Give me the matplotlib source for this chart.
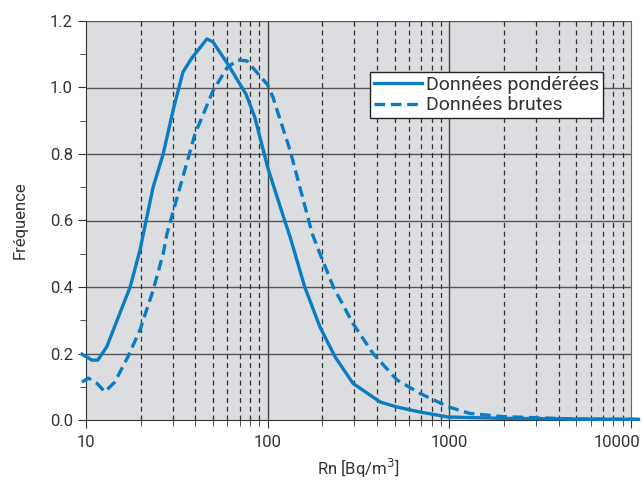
import numpy as np
import matplotlib.pyplot as plt
import matplotlib.transforms as mtransforms
from matplotlib.ticker import FixedLocator, NullFormatter, MultipleLocator

plt.rcParams['font.family'] = ['Roboto', 'DejaVu Sans']

# Données pondérées (solid)
x_pond = [9.5, 10.8, 11.6, 13.0, 17.5, 19.8, 23.4, 26.6, 30.1, 34.2, 38.4, 46.3, 50, 60.7,
          76, 85, 100, 124, 133, 160, 194, 235, 295, 417, 516, 690, 983, 2000, 5000, 11000]
y_pond = [0.198, 0.18, 0.18, 0.22, 0.40, 0.51, 0.70, 0.80, 0.93, 1.047, 1.09, 1.146, 1.137, 1.068,
          0.98, 0.91, 0.76, 0.60, 0.55, 0.40, 0.28, 0.19, 0.11, 0.054, 0.039, 0.024, 0.009, 0.005, 0.003, 0.002]

# Données brutes (dashed)
x_brut = [9.5, 10.3, 11.5, 12.7, 14.4, 17.0, 19.8, 23.4, 26.6, 27.9, 32.9, 39.8, 50, 59.8,
          68.7, 76.9, 100, 107, 133, 176, 194, 230, 295, 380, 516, 690, 983, 1290, 1980, 5000, 11000]
y_brut = [0.114, 0.126, 0.11, 0.085, 0.114, 0.19, 0.27, 0.39, 0.50, 0.56, 0.70, 0.86, 0.99, 1.06,
          1.083, 1.08, 1.008, 0.97, 0.81, 0.56, 0.50, 0.40, 0.29, 0.20, 0.12, 0.08, 0.04, 0.02, 0.01, 0.003, 0.002]

xticks = [10, 100, 1000, 10000]
xticklabels = ['10', '100', '1000', '10000']

blue = '#0a7cc1'
txt = '#333333'

fig = plt.figure(figsize=(6.44, 4.84), dpi=100)
ax = fig.add_axes([86/644, 1-420/484, (631-86)/644, (420-21)/484])
ax.set_facecolor('#dcdde0')

ax.set_xscale('log')
ax.set_xlim(10, 10000)
ax.set_ylim(0, 1.2)

minors = [m * 10**d for d in range(1, 4) for m in range(2, 10)]
ax.xaxis.set_major_locator(FixedLocator(xticks))
ax.xaxis.set_minor_locator(FixedLocator(minors))
ax.xaxis.set_minor_formatter(NullFormatter())
ax.set_xticklabels(xticklabels)
ax.yaxis.set_major_locator(MultipleLocator(0.2))
ax.yaxis.set_minor_locator(MultipleLocator(0.1))
ax.yaxis.set_major_formatter(plt.FuncFormatter(lambda v, p: f'{v:.1f}'))

for v in [0.2, 0.4, 0.6, 0.8, 1.0, 1.2]:
    ax.axhline(v, color='#555555', lw=1.0, zorder=1)
for v in [100, 1000]:
    ax.axvline(v, color='#444444', lw=1.0, zorder=1)
for v in minors:
    ax.axvline(v, color='#333333', lw=0.9, ls=(0, (4, 3)), zorder=1)

ax.plot(x_pond, y_pond, color=blue, lw=2.4, label='Données pondérées', clip_on=False, zorder=3)
ax.plot(x_brut, y_brut, color=blue, lw=2.4, ls=(0, (3.2, 1.7)), label='Données brutes',
        clip_on=False, zorder=3)

ax.spines['top'].set_visible(False)
ax.spines['right'].set_color('#666666')
ax.spines['left'].set_color('#333333')
ax.spines['bottom'].set_color('#333333')

ax.tick_params(axis='both', which='major', labelsize=12, labelcolor=txt, color='#333333', length=6)
ax.tick_params(axis='both', which='minor', color='#333333', length=4)
ax.tick_params(axis='x', which='major', pad=5)

# last x label sits right-aligned, as in the original
last = ax.get_xticklabels()[-1]
last.set_ha('right')
last.set_transform(last.get_transform() + mtransforms.ScaledTranslation(9/100, 0, fig.dpi_scale_trans))

ax.set_ylabel('Fréquence', fontsize=12, color=txt, labelpad=16)
ax.set_xlabel('Rn [Bq/m$^3$]', fontsize=12, color=txt, labelpad=5)

leg = ax.legend(loc='upper right', bbox_to_anchor=(0.949, 0.873), fontsize=14, frameon=True,
                fancybox=False, edgecolor='#222222', facecolor='white', framealpha=1,
                handlelength=2.5, handletextpad=0.2, borderpad=0.2, labelspacing=0.15,
                borderaxespad=0)
leg.get_frame().set_linewidth(1.0)
for t in leg.get_texts():
    t.set_color(txt)

fig.savefig('out.png', dpi=100)
